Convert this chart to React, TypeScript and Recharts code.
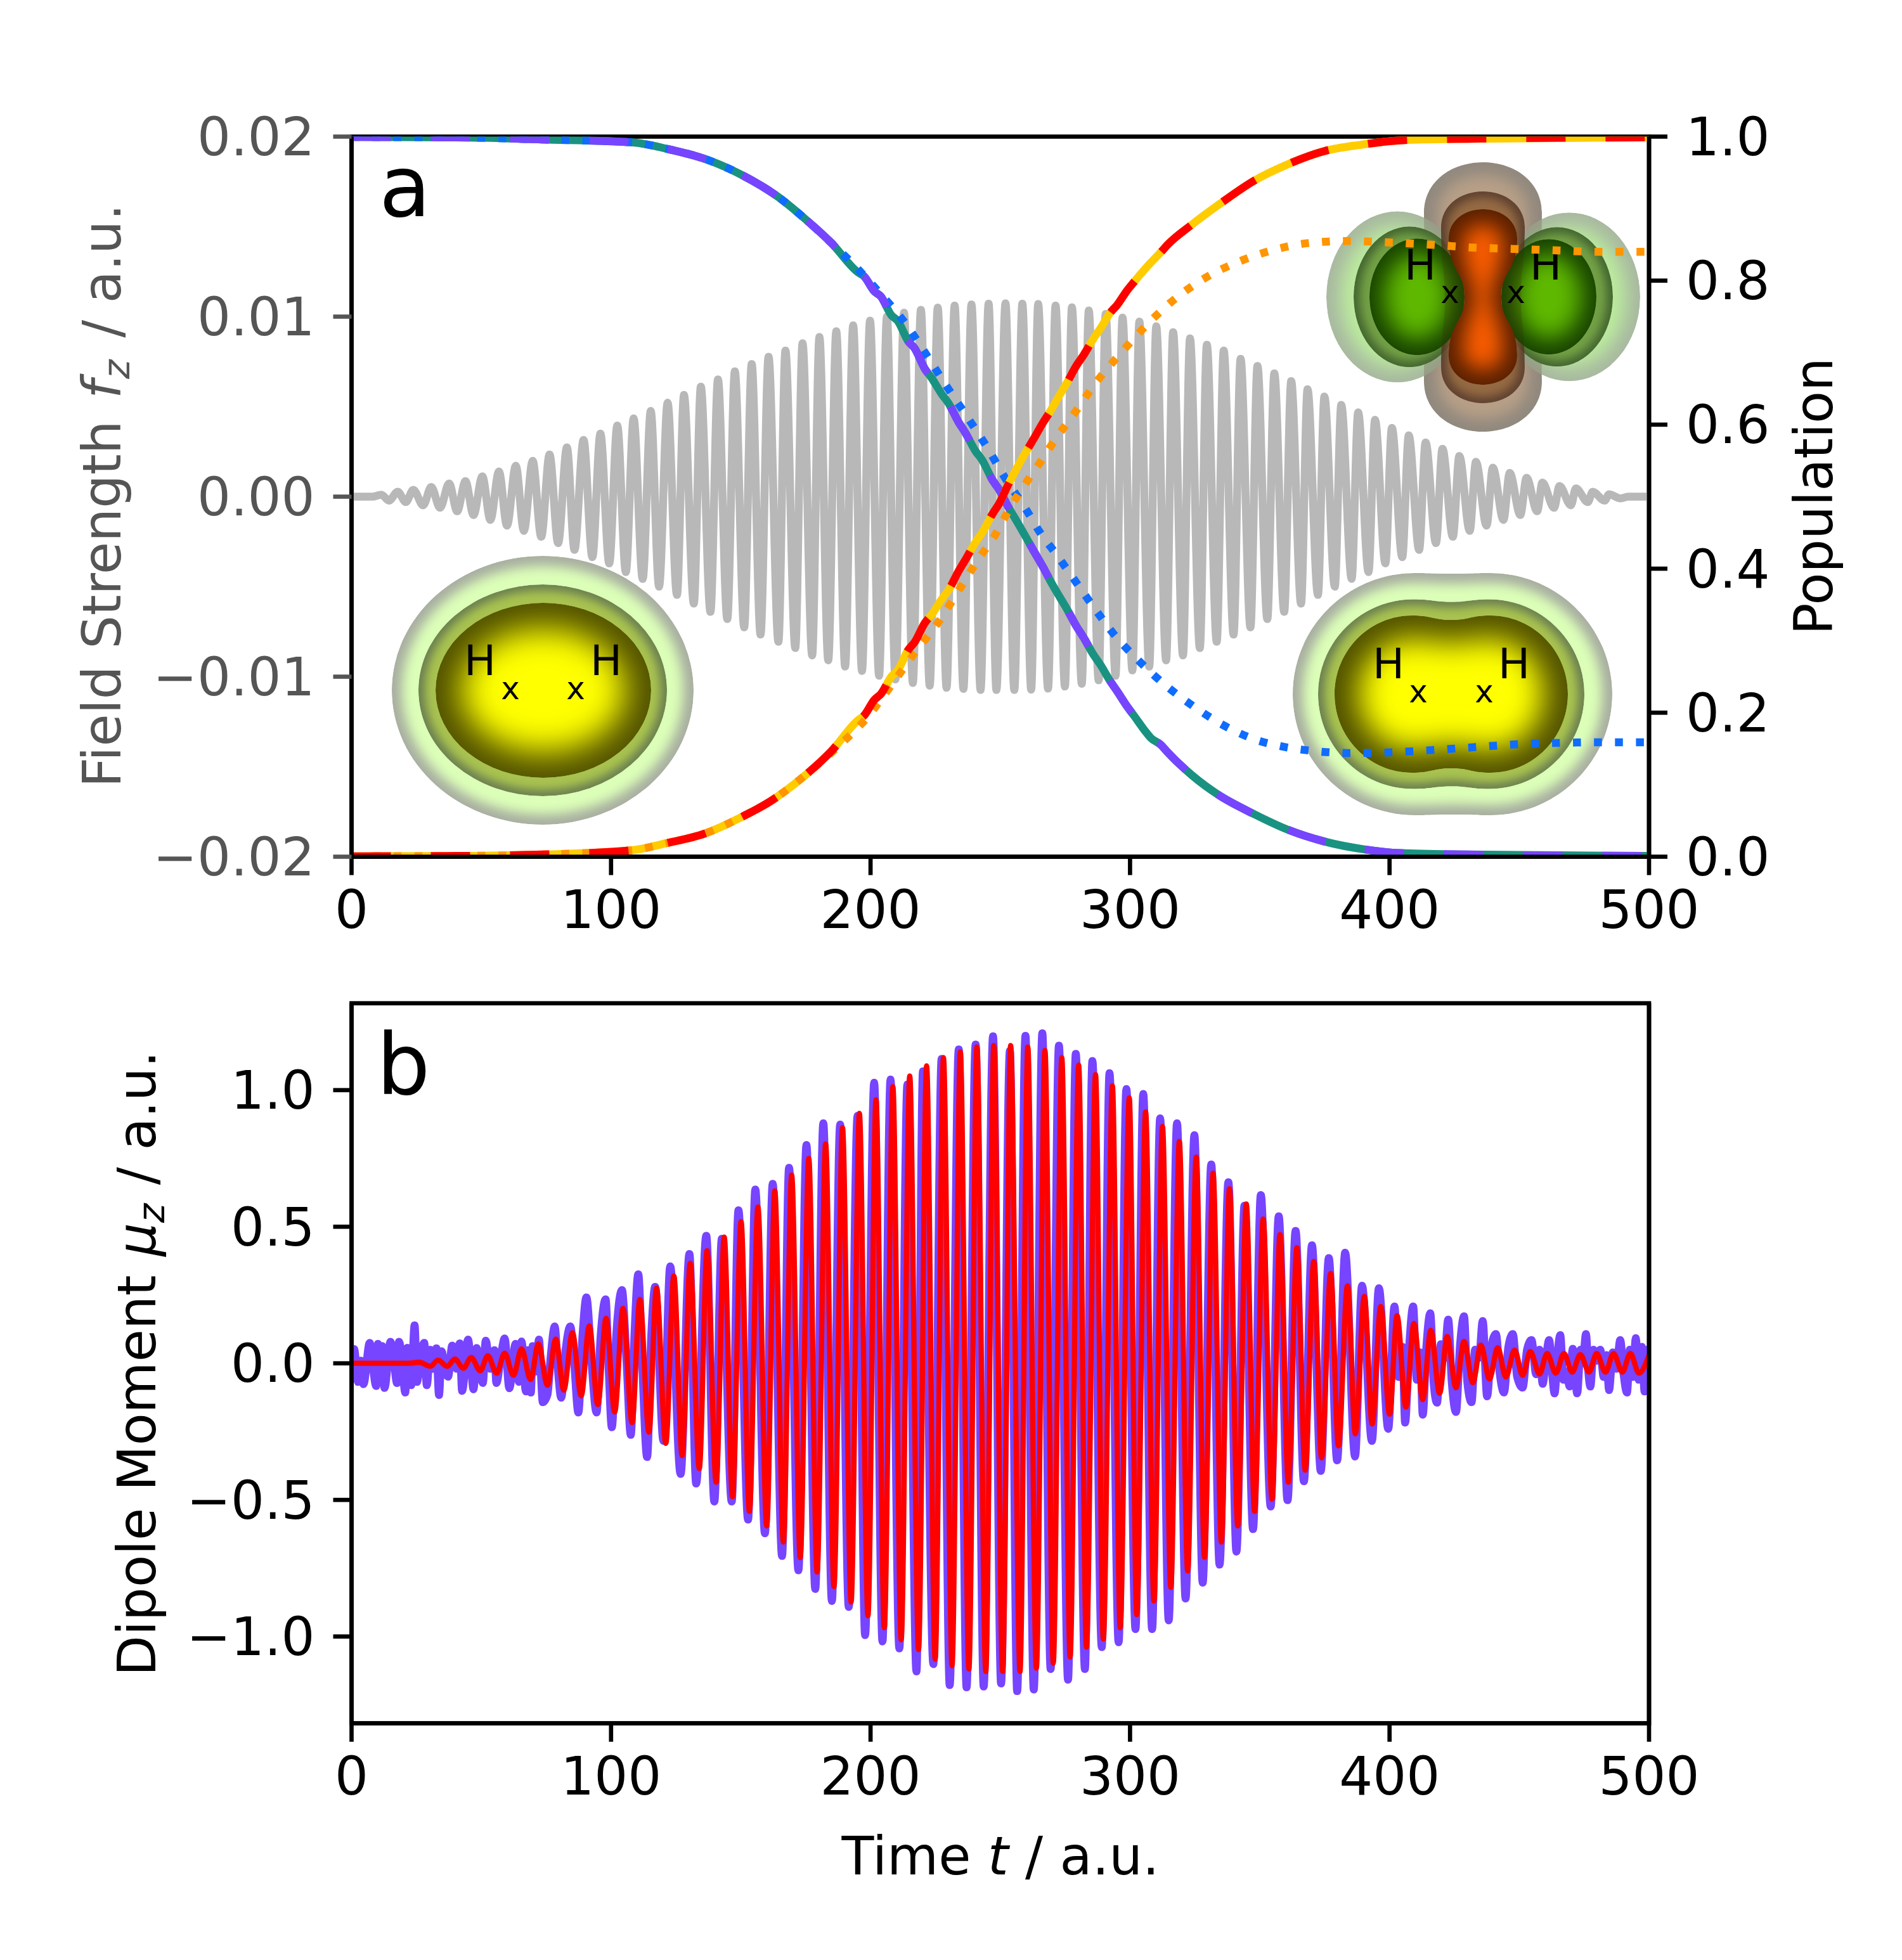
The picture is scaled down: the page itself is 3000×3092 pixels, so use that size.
import React from "react";
import { LineChart, Line, XAxis, YAxis, Customized } from "recharts";

const timeTicks = [0, 100, 200, 300, 400, 500];
const fieldTicks = [-0.02, -0.01, 0, 0.01, 0.02];
const populationTicks = [0, 0.2, 0.4, 0.6, 0.8, 1];
const dipoleTicks = [-1, -0.5, 0, 0.5, 1];

const fieldPeaks = [[11.5,.00011],[17.8,.00027],[23.8,.00038],[30.7,.00054],[37.6,.00073],[43.9,.00086],[50.4,.00113],[56.8,.0014],[63.3,.00172],[69.8,.00199],[76.3,.00234],[83,.00274],[89.4,.00315],[95.9,.0035],[102.4,.00395],[108.7,.00435],[115.3,.00476],[121.8,.00522],[128.1,.00565],[134.6,.00611],[141.2,.00651],[147.7,.00696],[154.2,.00737],[160.7,.00777],[167.2,.00812],[173.8,.00852],[180.3,.00887],[186.8,.00919],[193.3,.00952],[199.8,.00978],[206.3,.01],[212.9,.01022],[219.4,.01038],[225.9,.0105],[232.4,.01062],[238.9,.01068],[245.5,.01072],[252,.01074],[258.5,.01072],[264.6,.0107],[271.3,.01062],[277.6,.01052],[284.1,.01034],[290.6,.01015],[297.1,.00995],[303.6,.00973],[310.1,.00946],[316.6,.00914],[323.1,.00879],[329.6,.00844],[336.1,.00812],[342.6,.00766],[349.1,.00726],[355.6,.00685],[362.1,.00642],[368.4,.00597],[374.9,.00556],[381.4,.0051],[387.9,.00468],[394.4,.00427],[400.9,.00382],[407.4,.00341],[413.9,.00301],[420.4,.00266],[426.9,.00226],[433.3,.00194],[439.8,.00161],[446.3,.00132],[452.8,.00105],[458.9,.00078],[465.5,.00059],[471.8,.00046],[478.3,.00027],[484.6,.00013]];
const fieldTroughs = [[14.4,-.00022],[20.9,-.0003],[27.6,-.00048],[34.1,-.00062],[40.7,-.00081],[47,-.00102],[53.5,-.00129],[59.9,-.00161],[66.4,-.0019],[73.1,-.00223],[79.6,-.00258],[85.9,-.00296],[92.8,-.00336],[99.3,-.00371],[105.7,-.00419],[112.2,-.00457],[118.5,-.005],[125.4,-.00546],[131.9,-.00594],[138.3,-.0064],[144.8,-.0068],[151.3,-.00726],[157.6,-.00766],[164.5,-.00806],[171,-.00841],[177.5,-.00882],[183.7,-.00909],[190.2,-.00944],[196.7,-.00968],[203.3,-.00995],[209.6,-.01015],[216.3,-.01035],[222.8,-.0105],[229.3,-.01062],[235.8,-.01068],[242.4,-.01074],[248.5,-.01074],[255.4,-.01074],[261.9,-.01072],[268.4,-.01066],[274.9,-.01055],[281.4,-.0104],[287.9,-.0102],[294.4,-.00995],[300.9,-.00965],[307.4,-.00944],[313.9,-.00909],[320.4,-.00882],[326.9,-.00841],[333.4,-.00806],[339.9,-.00766],[346.4,-.00726],[352.9,-.0068],[359.4,-.0064],[365.9,-.00594],[372.4,-.00546],[378.9,-.005],[385.4,-.00457],[391.9,-.00419],[398.4,-.00371],[404.9,-.00336],[411.4,-.00296],[417.9,-.00258],[424.4,-.00223],[430.9,-.0019],[437.4,-.00161],[443.9,-.00129],[450.4,-.00102],[456.9,-.00081],[463.4,-.00062],[469.9,-.00048],[476.4,-.0003],[482.9,-.00022],[489,-.0001]];
const fieldEnds = [[0,0],[8,0],[492,0],[500,0]];

const groundSolid = [[0,.9995],[40,.999],[73.6,.996],[108,.992],[121.6,.983],[137,.968],[150.8,.946],[164.5,.916],[175,.885],[185,.852],[195,.812],[197.5,.806],[201.5,.785],[204,.778],[208,.752],[210.5,.744],[214.5,.716],[217,.706],[221,.677],[223.5,.665],[227.5,.642],[230,.63],[234,.603],[236.5,.589],[240.5,.563],[243,.551],[247,.523],[249.5,.51],[253.5,.483],[256,.468],[260,.443],[262.5,.427],[266.5,.402],[269,.385],[273,.36],[275.5,.345],[279.5,.319],[282,.305],[286,.28],[288.5,.267],[292.5,.243],[295,.23],[299,.208],[301.5,.196],[305.5,.176],[308,.165],[312,.155],[314.5,.145],[323.9,.113],[334,.086],[347.9,.059],[359.8,.039],[375,.021],[390.6,.01],[404,.005],[430,.003],[500,.001]];
const excitedSolid = [[0,.0005],[40,.001],[73.6,.003],[108,.009],[121.6,.019],[136,.032],[150.8,.056],[161,.076],[174.8,.113],[185,.147],[195,.189],[197.5,.196],[201.5,.218],[204,.226],[208,.25],[210.5,.259],[214.5,.287],[217,.298],[221,.325],[223.5,.336],[227.5,.358],[230,.37],[234,.397],[236.5,.412],[240.5,.437],[243,.45],[247,.476],[249.5,.49],[253.5,.52],[256,.537],[260,.563],[262.5,.578],[266.5,.603],[269,.617],[273,.642],[275.5,.657],[279.5,.683],[282,.696],[286,.72],[288.5,.733],[292.5,.756],[295,.766],[299,.787],[301.5,.798],[305.5,.815],[308,.825],[312,.84],[314.5,.85],[323.9,.878],[334,.905],[347.9,.939],[359.8,.96],[375,.98],[389.7,.989],[405,.995],[430,.997],[500,.999]];
const groundDotted = [[0,.9995],[40,.999],[73.6,.996],[108,.992],[121.6,.983],[137,.968],[150.8,.946],[164.5,.916],[175,.885],[185,.852],[195.4,.815],[203,.785],[212.5,.745],[221,.7],[228.8,.656],[237.4,.61],[245,.568],[252,.525],[259.8,.483],[265,.452],[272.6,.415],[276.9,.393],[285.5,.349],[294,.308],[303.4,.272],[313.7,.238],[324.8,.208],[336.8,.181],[348.8,.162],[357.3,.154],[370.1,.147],[385.5,.144],[400.9,.145],[416.2,.148],[432.5,.152],[448.7,.156],[464.4,.158],[481.2,.159],[500,.159]];
const excitedDotted = [[0,.0005],[40,.001],[73.6,.003],[108,.009],[121.6,.019],[136,.032],[150.8,.056],[161,.076],[174.8,.113],[185,.145],[198.8,.194],[208,.238],[216.8,.282],[226.2,.326],[234,.37],[241.7,.414],[247.7,.445],[253.7,.484],[261.4,.527],[265.8,.55],[270.9,.578],[278.6,.616],[287.2,.66],[296.6,.7],[306,.737],[317.1,.774],[329.1,.804],[341,.825],[354.7,.842],[368.4,.852],[383.8,.855],[400,.853],[416.2,.85],[431.6,.846],[447.9,.844],[464.1,.842],[481.2,.84],[500,.84]];

const dipoleFullEarly = [[0,.03],[1,.052],[2.5,-.068],[3.6,.01],[4.6,-.076],[7,.075],[8.2,-.01],[9.5,-.083],[10.2,.071],[11.2,.02],[11.8,.063],[12.7,-.09],[15,.079],[16.5,-.01],[17.5,-.072],[18.3,.079],[19.5,0],[20.7,-.107],[21.5,.057],[23,-.08],[24.3,.139],[25.2,-.068],[26.5,.02],[28,.075],[29,-.08],[30.3,.05],[31.5,-.02],[32.7,.055],[33.7,-.116],[34.7,.044],[36,-.02],[37.2,-.049],[38.8,.065],[40.5,-.02],[41.7,.073],[42.6,-.101],[44.9,.087],[46,-.01],[47,-.095],[48.2,.056],[49.5,-.03],[50.6,-.072],[51.7,.083],[53.5,-.02],[55.1,.048],[55.8,-.072],[57.6,.03],[59,.091],[60.8,-.091],[63.2,.071],[64.5,-.068],[65.5,.08],[67.2,-.103],[67.9,.048],[69.1,-.107],[69.8,.063],[71,-.03],[72.2,.087],[73.7,-.142],[75.5,-.114],[76.7,.02],[78.3,.135],[79.5,-.02],[80.8,-.126],[82.5,.05],[84.3,.135],[85.8,0],[87.4,-.18],[89,.1],[90.5,.241],[92.5,0],[94.4,-.18],[96,.1],[97.9,.234],[99,0],[100.3,-.234],[102,.1],[104.2,.268],[106,0],[107.6,-.262],[109,.1],[110.5,.326],[112,0],[113.9,-.343],[115.5,.1],[117,.28]];
const dipoleFullPeaks = [[122.8,.355],[130.2,.4],[136.7,.467],[142.7,.456],[149.1,.56],[155.6,.636],[162.3,.657],[168.6,.716],[175.3,.799],[181.8,.879],[188.3,.874],[195,.906],[201.4,1.027],[207.7,1.039],[214.2,1.021],[220.2,1.069],[227.4,1.114],[234,1.149],[240.5,1.167],[247.2,1.197],[253.7,1.144],[259.7,1.199],[266.2,1.208],[272.6,1.163],[279.1,1.133],[285.5,1.107],[292.1,1.062],[298.6,1.004],[305.1,.986],[311.6,.897],[318.1,.879],[324.8,.835],[331.3,.728],[337.9,.663],[344.1,.577],[350.4,.616],[357.3,.538],[363.8,.485],[370.1,.432],[376.6,.385],[382.9,.405],[389.4,.284],[395.9,.275]];
const dipoleFullTroughs = [[120.2,-.284],[126.8,-.405],[132.8,-.44],[139.8,-.506],[146.5,-.506],[152.8,-.572],[159.3,-.622],[165.9,-.705],[172.2,-.758],[178.7,-.826],[185.1,-.87],[191.6,-.892],[197.9,-.995],[204.6,-1.018],[211.1,-1.044],[217.7,-1.128],[224.2,-1.101],[230.5,-1.178],[237,-1.186],[243.6,-1.183],[250.3,-1.172],[256.5,-1.2],[262.9,-1.194],[269.4,-1.119],[276.1,-1.158],[282.6,-1.119],[289.1,-1.039],[295.6,-1.021],[302.1,-.973],[308.5,-.973],[314.9,-.941],[321.4,-.861],[328,-.803],[334.5,-.737],[341,-.689],[347.4,-.607],[354.2,-.524],[360.7,-.501],[367,-.432],[373.5,-.394],[379.8,-.355],[386.7,-.341],[393.2,-.284],[399.5,-.24]];
const dipoleFullLate = [[401.9,.208],[403.5,-.05],[405,.06],[406,-.217],[407.5,.05],[409.1,.208],[410.5,-.06],[411.8,.04],[412.8,-.188],[414.2,.06],[415.7,.183],[417,-.07],[418.3,-.144],[419.8,.07],[421.2,.02],[422.6,.16],[424,-.07],[425.6,-.178],[427.2,.07],[428.7,.172],[430,-.07],[431.6,-.142],[433,.05],[434.5,.02],[435.9,.155],[437.6,-.121],[439.2,.06],[441,.107],[442.5,-.04],[444.1,-.107],[445.8,.06],[447.5,.107],[449.2,-.05],[451.3,-.089],[453,.05],[454.7,.085],[456.5,-.04],[457.8,.05],[459,-.075],[460.3,.02],[461.5,.085],[462.6,-.03],[463.6,-.11],[464.8,.04],[465.8,.103],[467,-.06],[468.2,-.03],[469.4,-.085],[470.6,.053],[471.5,-.04],[472.3,-.11],[473.6,.05],[474.6,.02],[475.7,.107],[476.6,-.03],[477.4,-.085],[478.6,.05],[480,.01],[481.2,.05],[482.5,-.05],[483.6,.03],[484.6,-.098],[486,.04],[487.4,-.02],[488.9,.085],[490.2,-.04],[491.5,-.107],[492.6,.05],[493.7,-.05],[494.9,.092],[496,-.06],[497.2,.06],[498.3,-.103],[499.3,.05],[500,-.08]];

const dipoleTdPeaks = [[33.3,.012],[39.8,.016],[46.1,.021],[52.5,.028],[59,.037],[65.5,.053],[72,.071],[78.7,.089],[85.1,.112],[91.6,.137],[98.1,.165],[104.6,.201],[111.1,.234],[117.5,.275],[124.2,.32],[130.5,.366],[137,.412],[143.6,.462],[150.1,.519],[156.6,.572],[163.1,.631],[169.6,.689],[176.2,.75],[182.7,.803],[189.2,.862],[195.7,.915],[202.1,.965],[208.6,1.013],[215.1,1.052],[221.6,1.089],[228.1,1.119],[234.6,1.14],[241,1.158],[247.5,1.163],[254,1.163],[260.6,1.158],[267.2,1.146],[273.7,1.119],[280.2,1.092],[286.7,1.057],[293.2,1.016],[299.7,.972],[306,.92],[312.5,.867],[319,.812],[325.5,.755],[332,.696],[338.3,.639],[344.8,.583],[351.3,.528],[357.8,.471],[364.3,.423],[370.8,.373],[377.3,.329],[383.8,.284],[390.3,.245],[396.6,.208],[402.9,.174],[409.4,.146],[415.9,.121],[422.2,.098],[428.7,.08],[435.2,.066],[441.7,.057],[448.2,.048],[454.2,.043],[460.7,.036],[467.2,.036],[473.5,.032],[479.8,.036],[486.3,.036],[492.8,.036]];
const dipoleTdTroughs = [[30.4,-.011],[36.9,-.011],[43.1,-.018],[49.6,-.027],[55.9,-.036],[62.4,-.044],[69,-.059],[75.5,-.08],[81.8,-.098],[88.5,-.119],[94.9,-.151],[101.4,-.178],[108.1,-.217],[114.6,-.252],[121.1,-.293],[127.4,-.338],[134,-.385],[140.5,-.435],[146.8,-.488],[153.3,-.542],[160,-.595],[166.4,-.654],[172.9,-.711],[179.4,-.764],[185.9,-.817],[192.5,-.874],[199,-.924],[205.3,-.968],[211.8,-1.012],[218.5,-1.048],[224.9,-1.083],[231.4,-1.107],[237.9,-1.119],[244.4,-1.128],[250.9,-1.128],[257.6,-1.128],[263.9,-1.116],[270.4,-1.098],[276.9,-1.075],[283.2,-1.039],[289.7,-1.009],[296.2,-.968],[302.6,-.92],[309.2,-.87],[315.7,-.82],[322.2,-.76],[328.7,-.71],[335.2,-.654],[341.5,-.595],[348,-.542],[354.7,-.497],[361,-.435],[367.5,-.391],[373.8,-.346],[380.3,-.302],[386.8,-.258],[393.3,-.222],[400,-.186],[406.3,-.16],[412.8,-.133],[419.3,-.11],[425.6,-.089],[432.1,-.071],[438.5,-.057],[444.8,-.05],[451.3,-.044],[457.8,-.039],[464.1,-.036],[470.4,-.032],[476.9,-.032],[483.2,-.032],[489.7,-.032],[496.1,-.036]];
const dipoleTdEnds = [[0,0],[22,0],[26,.004],[500,.03]];

const toRows = (...lists: number[][][]) =>
  lists.flat().map(([t, v]) => ({ t, v })).sort((a, b) => a.t - b.t);

const FONT = "'DejaVu Sans'";
const FS = 83.3;
const SPINE = 6.67;
const LEFT = 554.5;
const RIGHT = 2601;
const A_TOP = 215.5;
const A_BOTTOM = 1351.5;
const B_OFFSET = 1400;
const B_TOP = 1582.7;
const B_BOTTOM = 2718.7;
const W = 3000;
const AXIS_W = 200;
const AXIS_H = 100;
const minus = (s: string) => s.replace("-", "\u2212");

const ell = (cx: number, cy: number, rx: number, ry: number) =>
  `M ${cx - rx} ${cy} a ${rx} ${ry} 0 1 0 ${2 * rx} 0 a ${rx} ${ry} 0 1 0 ${-2 * rx} 0 Z`;

const peanut = (cx: number, cy: number, rx: number, ry: number, lx: number, dip: number) => {
  const k = lx + 0.55 * (rx - lx);
  return (
    `M ${cx} ${cy - ry + dip} ` +
    `C ${cx + lx * 0.45} ${cy - ry + dip}, ${cx + lx * 0.5} ${cy - ry}, ${cx + lx} ${cy - ry} ` +
    `C ${cx + k} ${cy - ry}, ${cx + rx} ${cy - 0.55 * ry}, ${cx + rx} ${cy} ` +
    `C ${cx + rx} ${cy + 0.55 * ry}, ${cx + k} ${cy + ry}, ${cx + lx} ${cy + ry} ` +
    `C ${cx + lx * 0.5} ${cy + ry}, ${cx + lx * 0.45} ${cy + ry - dip}, ${cx} ${cy + ry - dip} ` +
    `C ${cx - lx * 0.45} ${cy + ry - dip}, ${cx - lx * 0.5} ${cy + ry}, ${cx - lx} ${cy + ry} ` +
    `C ${cx - k} ${cy + ry}, ${cx - rx} ${cy + 0.55 * ry}, ${cx - rx} ${cy} ` +
    `C ${cx - rx} ${cy - 0.55 * ry}, ${cx - k} ${cy - ry}, ${cx - lx} ${cy - ry} ` +
    `C ${cx - lx * 0.5} ${cy - ry}, ${cx - lx * 0.45} ${cy - ry + dip}, ${cx} ${cy - ry + dip} Z`
  );
};

const capsule = (cx: number, w: number, top: number, bottom: number, waist: number) => {
  const h = w * 0.85;
  const cy = (top + bottom) / 2;
  return (
    `M ${cx - w} ${top + h} C ${cx - w} ${top + h * 0.4}, ${cx - w * 0.55} ${top}, ${cx} ${top} ` +
    `C ${cx + w * 0.55} ${top}, ${cx + w} ${top + h * 0.4}, ${cx + w} ${top + h} ` +
    `C ${cx + w} ${cy - (cy - top) * 0.28}, ${cx + waist} ${cy - (cy - top) * 0.3}, ${cx + waist} ${cy} ` +
    `C ${cx + waist} ${cy + (cy - top) * 0.3}, ${cx + w} ${cy + (cy - top) * 0.28}, ${cx + w} ${bottom - h} ` +
    `C ${cx + w} ${bottom - h * 0.4}, ${cx + w * 0.55} ${bottom}, ${cx} ${bottom} ` +
    `C ${cx - w * 0.55} ${bottom}, ${cx - w} ${bottom - h * 0.4}, ${cx - w} ${bottom - h} ` +
    `C ${cx - w} ${cy + (cy - top) * 0.28}, ${cx - waist} ${cy + (cy - top) * 0.3}, ${cx - waist} ${cy} ` +
    `C ${cx - waist} ${cy - (cy - top) * 0.3}, ${cx - w} ${cy - (cy - top) * 0.28}, ${cx - w} ${top + h} Z`
  );
};

const blurLevels = [7, 9, 11, 14, 16, 18, 24, 26];

const Shaded = ({ id, d, inner, edge, core, blur, opacity = 1 }: { id: string; d: string; inner: string; edge: string; core: string; blur: number; opacity?: number }) => (
  <g opacity={opacity}>
    <clipPath id={id}><path d={d} /></clipPath>
    <g clipPath={`url(#${id})`}>
      <path d={d} fill={edge} />
      <path d={inner} fill={core} filter={`url(#blur${blur})`} />
    </g>
  </g>
);

const Atoms = ({ h, hy, x, xy }: { h: number[]; hy: number; x: number[]; xy: number }) => (
  <g fontFamily={FONT} fill="#000" textAnchor="middle">
    {h.map((p) => <text key={`h${p}`} x={p} y={hy} fontSize={66.6}>H</text>)}
    {x.map((p) => <text key={`x${p}`} x={p} y={xy} fontSize={50}>x</text>)}
  </g>
);

const Insets = () => (
  <g>
    <defs>
      {blurLevels.map((b) => (
        <filter key={b} id={`blur${b}`} x="-60%" y="-60%" width="220%" height="220%">
          <feGaussianBlur stdDeviation={b} />
        </filter>
      ))}
    </defs>

    <Shaded id="e1" d={ell(856, 1089, 238, 212)} inner={ell(856, 1089, 222, 196)} edge="#a8aea0" core="#dcffb8" blur={9} />
    <Shaded id="e2" d={ell(856, 1089, 196, 167)} inner={ell(856, 1089, 186, 157)} edge="#6c8050" core="#a8c250" blur={7} />
    <Shaded id="e3" d={ell(857, 1089, 170, 138)} inner={ell(857, 1089, 130, 98)} edge="#505000" core="#ffff00" blur={26} />
    <Atoms h={[757, 956]} hy={1065} x={[805, 908]} xy={1103} />

    <Shaded id="p1" d={peanut(2291, 1095, 252, 191, 60, 1)} inner={peanut(2291, 1095, 236, 175, 60, 1)} edge="#a8aea0" core="#dcffb8" blur={9} />
    <Shaded id="p2" d={peanut(2289, 1095, 210, 149.5, 60, 4)} inner={peanut(2289, 1095, 200, 140, 60, 4)} edge="#6c8050" core="#a8c250" blur={7} />
    <Shaded id="p3" d={peanut(2289, 1095, 184, 124, 62, 7)} inner={peanut(2289, 1095, 146, 88, 62, 7)} edge="#505000" core="#ffff00" blur={24} />
    <Atoms h={[2190, 2388]} hy={1070} x={[2237, 2341]} xy={1108} />

    <Shaded id="o1" d={capsule(2339, 93, 256, 681, 88)} inner={capsule(2339, 72, 276, 661, 68)} edge="#a09c94" core="#d8bca0" blur={11} />
    <Shaded id="g1l" d={ell(2204, 468.3, 112, 135)} inner={ell(2204, 468.3, 90, 113)} edge="#a8b8a0" core="#bcec9e" blur={14} />
    <Shaded id="g1r" d={ell(2475, 468.3, 112, 133)} inner={ell(2475, 468.3, 90, 111)} edge="#a8b8a0" core="#bcec9e" blur={14} />
    <path d={capsule(2339, 93, 256, 681, 88)} fill="#6c5c4c" opacity={0.3} />
    <Shaded id="g2l" d={ell(2223, 468.3, 88, 111)} inner={ell(2223, 468.3, 78, 101)} edge="#446630" core="#72a044" blur={7} />
    <Shaded id="g2r" d={ell(2456, 468.3, 88, 110)} inner={ell(2456, 468.3, 78, 100)} edge="#446630" core="#72a044" blur={7} />
    <Shaded id="o2" d={capsule(2339, 66, 302, 636, 60)} inner={capsule(2339, 56, 312, 626, 50)} edge="#58382a" core="#a87444" blur={7} opacity={0.82} />
    <Shaded id="g3l" d={ell(2235, 468.3, 75, 92)} inner={ell(2235, 468.3, 52, 68)} edge="#164000" core="#5eb800" blur={18} />
    <Shaded id="g3r" d={ell(2443, 468.3, 75, 91)} inner={ell(2443, 468.3, 52, 67)} edge="#164000" core="#5eb800" blur={18} />
    <path d={capsule(2339, 66, 302, 636, 60)} fill="#3a2408" opacity={0.2} />
    <Shaded id="o3" d={capsule(2339, 54, 330, 607, 29)} inner={capsule(2339, 32, 354, 583, 14)} edge="#5a2000" core="#f85c00" blur={16} />
    <Atoms h={[2240, 2438]} hy={441} x={[2287, 2391]} xy={478} />
  </g>
);

const Frame = ({ top, bottom }: { top: number; bottom: number }) => (
  <rect x={LEFT} y={top} width={RIGHT - LEFT} height={bottom - top} fill="none" stroke="#000" strokeWidth={SPINE} />
);

const PanelA = () => (
  <g fontFamily={FONT} fontSize={FS}>
    <text x={598} y={341} fontSize={133}>a</text>
    <text transform="translate(190,782) rotate(-90)" textAnchor="middle" fill="#555555">
      Field Strength <tspan fontStyle="italic" dx={8}>f</tspan>
      <tspan fontStyle="italic" fontSize={58} dy={14} dx={2}>z</tspan>
      <tspan dy={-14} dx={8}> / a.u.</tspan>
    </text>
    <text transform="translate(2890,783) rotate(-90)" textAnchor="middle">Population</text>
  </g>
);

const PanelB = () => (
  <g fontFamily={FONT} fontSize={FS}>
    <text x={594} y={1726 - B_OFFSET} fontSize={133}>b</text>
    <text transform={`translate(217,${2151 - B_OFFSET}) rotate(-90) translate(0,28)`} textAnchor="middle">
      Dipole Moment <tspan fontStyle="italic" dx={3}>μ</tspan>
      <tspan fontStyle="italic" fontSize={58} dy={14}>z</tspan>
      <tspan dy={-14} dx={3}> / a.u.</tspan>
    </text>
    <text x={1578} y={2957 - B_OFFSET} textAnchor="middle">
      Time <tspan fontStyle="italic">t</tspan> / a.u.
    </text>
  </g>
);

const xAxisProps = {
  type: "number" as const,
  dataKey: "t",
  domain: [0, 500],
  ticks: timeTicks,
  interval: 0,
  height: AXIS_H,
  tickSize: 29,
  tickMargin: 24,
  allowDataOverflow: true,
  allowDuplicatedCategory: false,
  tick: { fill: "#000", fontSize: FS, fontFamily: FONT },
  tickLine: { stroke: "#000", strokeWidth: SPINE },
  axisLine: { stroke: "#000", strokeWidth: SPINE },
};

const yAxisBase = {
  type: "number" as const,
  width: AXIS_W,
  interval: 0,
  tickSize: 29,
  tickMargin: 29,
  allowDataOverflow: true,
  axisLine: { stroke: "#000", strokeWidth: SPINE },
};

const lineBase = { type: "monotone" as const, dataKey: "v", dot: false, isAnimationActive: false, strokeLinecap: "butt" as const };

const fieldRows = toRows(fieldEnds, fieldPeaks, fieldTroughs);
const dipoleFullRows = toRows(dipoleFullEarly, dipoleFullPeaks, dipoleFullTroughs, dipoleFullLate);
const dipoleTdRows = toRows(dipoleTdEnds, dipoleTdPeaks, dipoleTdTroughs);

export default function App() {
  return (
    <div style={{ position: "absolute", left: 0, top: 0, width: W, height: 3092, background: "#fff" }}>
      <div style={{ position: "absolute", left: 0, top: 0 }}>
        <LineChart
          width={W}
          height={1600}
          margin={{ left: LEFT - AXIS_W, right: W - RIGHT - AXIS_W, top: A_TOP, bottom: 1600 - A_BOTTOM - AXIS_H }}
        >
          <XAxis {...xAxisProps} />
          <YAxis
            {...yAxisBase}
            yAxisId="field"
            domain={[-0.02, 0.02]}
            ticks={fieldTicks}
            tick={{ fill: "#555555", fontSize: FS, fontFamily: FONT }}
            tickLine={{ stroke: "#555555", strokeWidth: SPINE }}
            tickFormatter={(v: number) => minus(v.toFixed(2))}
          />
          <YAxis
            {...yAxisBase}
            yAxisId="pop"
            orientation="right"
            domain={[0, 1]}
            ticks={populationTicks}
            tick={{ fill: "#000", fontSize: FS, fontFamily: FONT }}
            tickLine={{ stroke: "#000", strokeWidth: SPINE }}
            tickFormatter={(v: number) => v.toFixed(1)}
          />
          <Customized component={Insets} />
          <Line {...lineBase} yAxisId="field" data={fieldRows} stroke="#b8b8b8" strokeWidth={12.5} />
          <Line {...lineBase} yAxisId="pop" data={toRows(groundSolid)} stroke="#1a9281" strokeWidth={12.5} />
          <Line {...lineBase} yAxisId="pop" data={toRows(groundDotted)} stroke="#0f6cff" strokeWidth={12.5} strokeDasharray="12.5 20.6" />
          <Line {...lineBase} yAxisId="pop" data={toRows(groundSolid)} stroke="#7744ff" strokeWidth={12.5} strokeDasharray="62 63" />
          <Line {...lineBase} yAxisId="pop" data={toRows(excitedSolid)} stroke="#ffcc00" strokeWidth={12.5} />
          <Line {...lineBase} yAxisId="pop" data={toRows(excitedDotted)} stroke="#ff9500" strokeWidth={12.5} strokeDasharray="12.5 20.6" />
          <Line {...lineBase} yAxisId="pop" data={toRows(excitedSolid)} stroke="#ff0000" strokeWidth={12.5} strokeDasharray="62 63" />
          <Customized component={() => <Frame top={A_TOP} bottom={A_BOTTOM} />} />
          <Customized component={PanelA} />
        </LineChart>
      </div>
      <div style={{ position: "absolute", left: 0, top: B_OFFSET }}>
        <LineChart
          width={W}
          height={3092 - B_OFFSET}
          margin={{
            left: LEFT - AXIS_W,
            right: W - RIGHT - AXIS_W,
            top: B_TOP - B_OFFSET,
            bottom: 3092 - B_BOTTOM - AXIS_H,
          }}
        >
          <XAxis {...xAxisProps} />
          <YAxis
            {...yAxisBase}
            yAxisId="dipole"
            domain={[-1.318, 1.318]}
            ticks={dipoleTicks}
            tick={{ fill: "#000", fontSize: FS, fontFamily: FONT }}
            tickLine={{ stroke: "#000", strokeWidth: SPINE }}
            tickFormatter={(v: number) => minus(v.toFixed(1))}
          />
          <YAxis {...yAxisBase} yAxisId="side" orientation="right" domain={[0, 1]} ticks={[]} tick={false} tickLine={false} />
          <Line {...lineBase} yAxisId="dipole" data={dipoleFullRows} stroke="#7744ff" strokeWidth={12.5} />
          <Line {...lineBase} yAxisId="dipole" data={dipoleTdRows} stroke="#ff0000" strokeWidth={8.3} />
          <Customized component={() => <Frame top={B_TOP - B_OFFSET} bottom={B_BOTTOM - B_OFFSET} />} />
          <Customized component={PanelB} />
        </LineChart>
      </div>
    </div>
  );
}
